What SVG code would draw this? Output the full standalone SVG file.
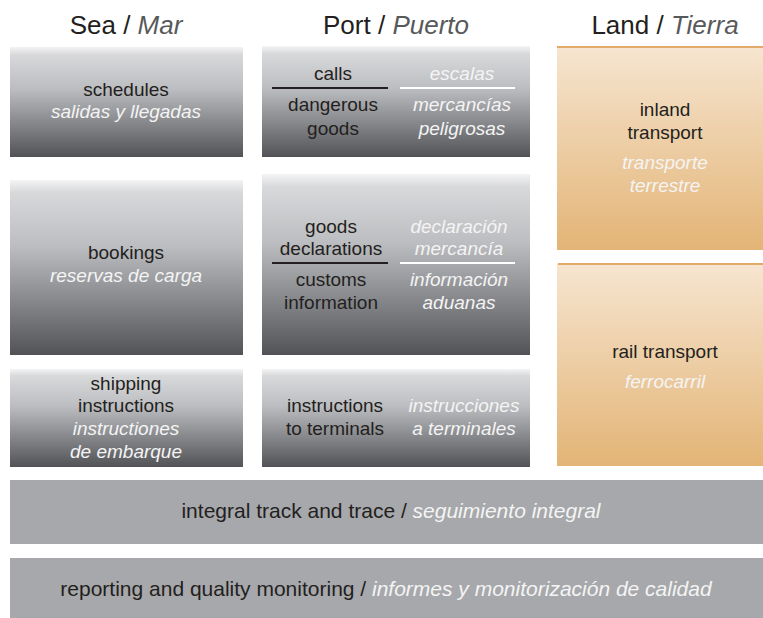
<svg xmlns="http://www.w3.org/2000/svg" width="763" height="618" viewBox="0 0 763 618">
<defs>
<linearGradient id="gg" x1="0" y1="0" x2="0" y2="1">
<stop offset="0" stop-color="#f4f4f5"/>
<stop offset="0.07" stop-color="#d8d9db"/>
<stop offset="0.38" stop-color="#bcbdc0"/>
<stop offset="1" stop-color="#525357"/>
</linearGradient>
<linearGradient id="og" x1="0" y1="0" x2="0" y2="1">
<stop offset="0" stop-color="#f6e5d0"/>
<stop offset="1" stop-color="#e3b476"/>
</linearGradient>
</defs>
<style>
text{font-family:"Liberation Sans",Arial,sans-serif;font-size:19px;text-anchor:middle;fill:#231f20}
.it{font-style:italic;fill:#f4f4f4}
.h{font-size:26px}
.hi{font-style:italic;fill:#58595b}
.bt{font-size:21px}
.g{fill:url(#gg)}
.o{fill:url(#og)}
.ot{fill:#e2a96a}
.bar{fill:#a7a8ab}
.bl{stroke:#231f20;stroke-width:2}
.wl{stroke:#ffffff;stroke-width:2}
</style>
<rect width="763" height="618" fill="#ffffff"/>
<g id="headers">
<text class="h" x="126" y="34">Sea / <tspan class="hi">Mar</tspan></text>
<text class="h" x="396" y="34">Port / <tspan class="hi">Puerto</tspan></text>
<text class="h" x="665" y="34">Land / <tspan class="hi">Tierra</tspan></text>
</g>
<g id="schedules">
<rect class="g" x="10" y="47" width="233" height="110"/>
<text x="126" y="96">schedules</text>
<text class="it" x="126" y="118">salidas y llegadas</text>
</g>
<g id="bookings">
<rect class="g" x="10" y="180" width="233" height="175"/>
<text x="126" y="259">bookings</text>
<text class="it" x="126" y="282">reservas de carga</text>
</g>
<g id="shipping">
<rect class="g" x="10" y="369" width="233" height="98"/>
<text x="126" y="390">shipping</text>
<text x="126" y="412">instructions</text>
<text class="it" x="126" y="435">instructiones</text>
<text class="it" x="126" y="458">de embarque</text>
</g>
<g id="calls">
<rect class="g" x="262" y="46" width="268" height="111"/>
<line class="bl" x1="272" y1="88" x2="388" y2="88"/>
<line class="wl" x1="400" y1="88" x2="515" y2="88"/>
<text x="333" y="80">calls</text>
<text class="it" x="462" y="80">escalas</text>
<text x="333" y="111">dangerous</text>
<text x="333" y="135">goods</text>
<text class="it" x="462" y="111">mercancías</text>
<text class="it" x="462" y="135">peligrosas</text>
</g>
<g id="goods">
<rect class="g" x="262" y="174" width="268" height="181"/>
<line class="bl" x1="272" y1="263" x2="388" y2="263"/>
<line class="wl" x1="400" y1="263" x2="515" y2="263"/>
<text x="331" y="233">goods</text>
<text x="331" y="255">declarations</text>
<text x="331" y="286">customs</text>
<text x="331" y="309">information</text>
<text class="it" x="459" y="233">declaración</text>
<text class="it" x="459" y="255">mercancía</text>
<text class="it" x="459" y="286">información</text>
<text class="it" x="459" y="309">aduanas</text>
</g>
<g id="terminals">
<rect class="g" x="262" y="369" width="268" height="98"/>
<text x="335" y="412">instructions</text>
<text x="335" y="435">to terminals</text>
<text class="it" x="464" y="412">instrucciones</text>
<text class="it" x="464" y="435">a terminales</text>
</g>
<g id="inland">
<rect class="o" x="557" y="47" width="206" height="203"/>
<rect class="ot" x="557" y="46" width="206" height="2"/>
<text x="665" y="116">inland</text>
<text x="665" y="139">transport</text>
<text class="it" x="665" y="169">transporte</text>
<text class="it" x="665" y="192">terrestre</text>
</g>
<g id="rail">
<rect class="o" x="557" y="264" width="206" height="202"/>
<rect class="ot" x="558" y="263" width="205" height="2"/>
<text x="665" y="358">rail transport</text>
<text class="it" x="665" y="388">ferrocarril</text>
</g>
<g id="track">
<rect class="bar" x="10" y="480" width="753" height="64"/>
<text class="bt" x="391" y="518">integral track and trace / <tspan class="it">seguimiento integral</tspan></text>
</g>
<g id="reporting">
<rect class="bar" x="10" y="558" width="753" height="60"/>
<text class="bt" x="386" y="596">reporting and quality monitoring / <tspan class="it">informes y monitorización de calidad</tspan></text>
</g>
<g id="connectors"></g>
</svg>
